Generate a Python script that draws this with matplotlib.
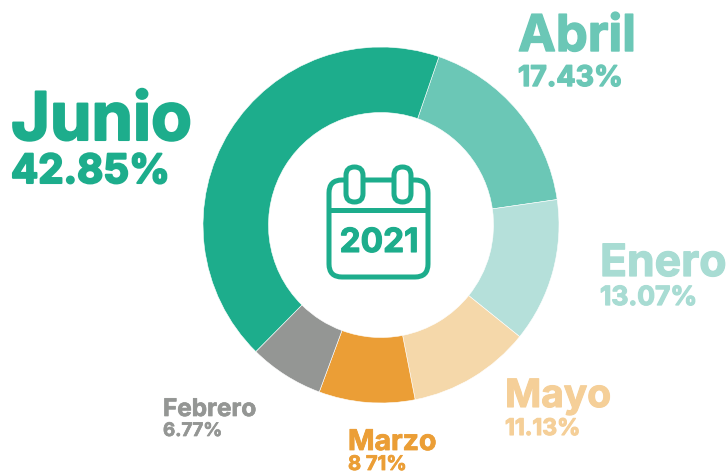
import matplotlib
matplotlib.use("Agg")
import matplotlib.pyplot as plt
import matplotlib.patheffects as pe
from matplotlib.patches import FancyBboxPatch

months = ["Abril", "Enero", "Mayo", "Marzo", "Febrero", "Junio"]
shares = [17.43, 13.07, 11.13, 8.71, 6.77, 42.85]
share_labels = ["17.43%", "13.07%", "11.13%", "8 71%", "6.77%", "42.85%"]
colors = ["#6BC7B6", "#B5E0DA", "#F5D8AA", "#EB9E36", "#949694", "#1DAD8C"]
text_colors = ["#6BC7B6", "#A8DCD3", "#F5CF98", "#EB9E36", "#949694", "#1DAD8C"]
year = "2021"

W, H = 726, 474
plt.rcParams['font.family'] = ['Inter', 'DejaVu Sans']
fig = plt.figure(figsize=(W / 100, H / 100), dpi=100, facecolor="white")
ax = fig.add_axes([0, 0, 1, 1])
ax.set_xlim(0, W)
ax.set_ylim(H, 0)
ax.axis("off")

pax = fig.add_axes([0, 0, 1, 1], zorder=0)
pax.pie(shares, colors=colors, startangle=71.0, counterclock=False, center=(381, H - 225), radius=178,
        wedgeprops=dict(width=65.5, edgecolor="white", linewidth=0.4))
pax.set_xlim(0, W)
pax.set_ylim(0, H)
pax.set_aspect("equal")
pax.axis("off")
ax.set_zorder(2)
ax.patch.set_alpha(0)

# label placement: x, name baseline, name size, pct baseline, pct size, stroke
place = [
    (518, 51, 36.5, 86, 20.5, 1.0),
    (600, 276, 32, 305, 19, 0.9),
    (505, 407, 28, 435, 16.5, 0.8),
    (348, 450, 20.5, 470, 14.5, 0.6),
    (163, 416, 17.5, 436, 13.5, 0.5),
    (11, 140, 48, 183, 29, 1.5),
]
for m, s, c, (x, y1, fs1, y2, fs2, st) in zip(months, share_labels, text_colors, place):
    for txt, y, fs in ((m, y1, fs1), (s, y2, fs2)):
        t = ax.text(x, y, txt, color=c, fontsize=fs, fontweight="bold", va="baseline", ha="left")
        t.set_path_effects([pe.withStroke(linewidth=st, foreground=c)])

# calendar icon
g = "#1DAD8C"
lw = 3.6
ax.add_patch(FancyBboxPatch((329, 180), 99, 97, boxstyle="round,pad=0,rounding_size=13",
                            fc="white", ec=g, lw=lw))
ax.plot([329, 428], [210, 210], color=g, lw=lw, solid_capstyle="butt")
for x0 in (346, 394):
    ax.add_patch(FancyBboxPatch((x0, 167), 17, 35, boxstyle="round,pad=0,rounding_size=8.5",
                                fc="white", ec=g, lw=lw))
t = ax.text(379, 252, year, color=g, fontsize=24, fontweight="bold", ha="center", va="baseline")
t.set_path_effects([pe.withStroke(linewidth=0.8, foreground=g)])

fig.savefig("out.png", dpi=100, facecolor="white")
